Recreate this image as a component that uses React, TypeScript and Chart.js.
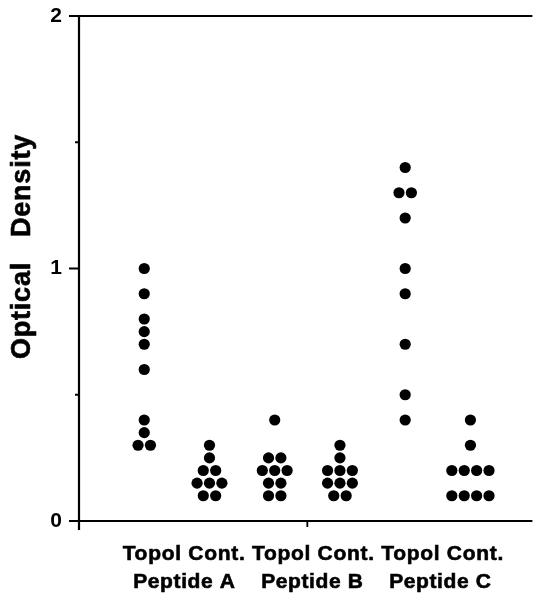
import React, { useEffect, useRef } from 'react';
import { Chart, registerables } from 'chart.js';

Chart.register(...registerables);

// ---- data ----
const groupLabels = ['Topol', 'Cont.', 'Topol', 'Cont.', 'Topol', 'Cont.'];
const peptideLabels = ['Peptide A', 'Peptide B', 'Peptide C'];
const yTickValues = [0, 0.5, 1, 1.5, 2];
const yTitle = 'Optical   Density';

const topolA = [1.0, 0.9, 0.8, 0.75, 0.7, 0.6, 0.4, 0.35, 0.3, 0.3];
const contA = [0.3, 0.25, 0.2, 0.2, 0.15, 0.15, 0.15, 0.1, 0.1];
const topolB = [0.4, 0.25, 0.25, 0.2, 0.2, 0.2, 0.15, 0.15, 0.1, 0.1];
const contB = [0.3, 0.25, 0.2, 0.2, 0.2, 0.15, 0.15, 0.15, 0.1, 0.1];
const topolC = [1.4, 1.3, 1.3, 1.2, 1.0, 0.9, 0.7, 0.5, 0.4];
const contC = [0.4, 0.3, 0.2, 0.2, 0.2, 0.2, 0.1, 0.1, 0.1, 0.1];

const groups = [topolA, contA, topolB, contB, topolC, contC];

const FONT = '"Liberation Sans", Arial, Helvetica, sans-serif';
const DOT_STEP = 0.19; // x-units between side-by-side dots of equal value

// Dot-plot layout: equal values in a group are laid side by side in a row
function dotPoints(values: number[], center: number) {
  const counts: Record<string, number> = {};
  values.forEach((v) => { counts[v.toFixed(3)] = (counts[v.toFixed(3)] || 0) + 1; });
  const seen: Record<string, number> = {};
  return values.map((v) => {
    const k = v.toFixed(3);
    const n = counts[k];
    const i = seen[k] || 0;
    seen[k] = i + 1;
    return { x: center + (i - (n - 1) / 2) * DOT_STEP, y: v };
  });
}

function boldText(ctx: any, text: string, x: number, y: number) {
  ctx.fillText(text, x, y);
  ctx.lineWidth = 0.6;
  ctx.strokeText(text, x, y);
}

const framePlugin = {
  id: 'frame',
  afterDraw(chart: any) {
    const { ctx, chartArea, scales } = chart;
    const xs = scales.x;
    const ys = scales.y;
    const { left, right, top, bottom } = chartArea;
    ctx.save();
    ctx.strokeStyle = '#000';
    ctx.fillStyle = '#000';
    ctx.lineWidth = 2.2;
    ctx.beginPath();
    ctx.moveTo(left, top - 1);
    ctx.lineTo(left, bottom + 9);
    ctx.moveTo(left - 1, top);
    ctx.lineTo(right, top);
    ctx.moveTo(left - 1, bottom);
    ctx.lineTo(right, bottom);
    ctx.stroke();

    // y tick marks
    ctx.lineWidth = 1.8;
    ctx.beginPath();
    yTickValues.forEach((v) => {
      const py = ys.getPixelForValue(v);
      const len = v % 1 === 0 ? 10 : 4;
      ctx.moveTo(left - len, py);
      ctx.lineTo(left, py);
    });
    // x tick at the middle of the axis
    const mid = xs.getPixelForValue(3.5);
    ctx.moveTo(mid, bottom);
    ctx.lineTo(mid, bottom + 6);
    ctx.stroke();

    // x labels
    ctx.textAlign = 'center';
    ctx.textBaseline = 'alphabetic';
    ctx.font = `bold 21px ${FONT}`;
    ctx.letterSpacing = '0.7px';
    boldText(ctx, groupLabels.join(' '), mid + 6, bottom + 39);
    ctx.letterSpacing = '0.6px';
    boldText(ctx, peptideLabels.join('    '), mid + 5, bottom + 67);

    // y title
    ctx.font = `bold 27px ${FONT}`;
    ctx.letterSpacing = '0.8px';
    ctx.translate(23, (top + bottom) / 2 - 22);
    ctx.rotate(-Math.PI / 2);
    ctx.textBaseline = 'middle';
    boldText(ctx, yTitle, 0, 0);
    ctx.restore();
  },
};

export default function App() {
  const ref = useRef<HTMLCanvasElement>(null);
  useEffect(() => {
    document.body.style.margin = '0';
    const canvas = ref.current!;
    const chart = new Chart(canvas, {
      type: 'scatter',
      data: {
        datasets: groups.map((vals, i) => ({
          label: groupLabels[i],
          data: dotPoints(vals, i + 1),
          pointRadius: 5.6,
          pointBackgroundColor: '#000',
          pointBorderWidth: 0,
          pointHoverRadius: 5.6,
        })),
      },
      options: {
        animation: false,
        responsive: false,
        layout: { padding: { top: 16, left: 0, right: 0, bottom: 0 } },
        plugins: { legend: { display: false }, tooltip: { enabled: false } },
        scales: {
          x: {
            type: 'linear',
            min: 0,
            max: 6.95,
            grid: { display: false, drawTicks: false },
            border: { display: false },
            ticks: { display: false },
            afterFit: (s: any) => { s.height = 79; s.paddingLeft = 0; s.paddingRight = 0; },
          },
          y: {
            min: 0,
            max: 2,
            grid: { display: false, drawTicks: false },
            border: { display: false },
            ticks: {
              stepSize: 0.5,
              padding: 17,
              color: '#000',
              font: { family: FONT, size: 21, weight: 'bold' },
              callback: (v: any) => (Number(v) % 1 === 0 ? String(v) : ''),
            },
            afterFit: (s: any) => { s.width = 79; s.paddingTop = 0; s.paddingBottom = 0; },
          },
        },
      },
      plugins: [framePlugin],
    });
    return () => chart.destroy();
  }, []);
  return (
    <div style={{ width: 538, height: 600 }}>
      <canvas ref={ref} width={538} height={600} />
    </div>
  );
}
